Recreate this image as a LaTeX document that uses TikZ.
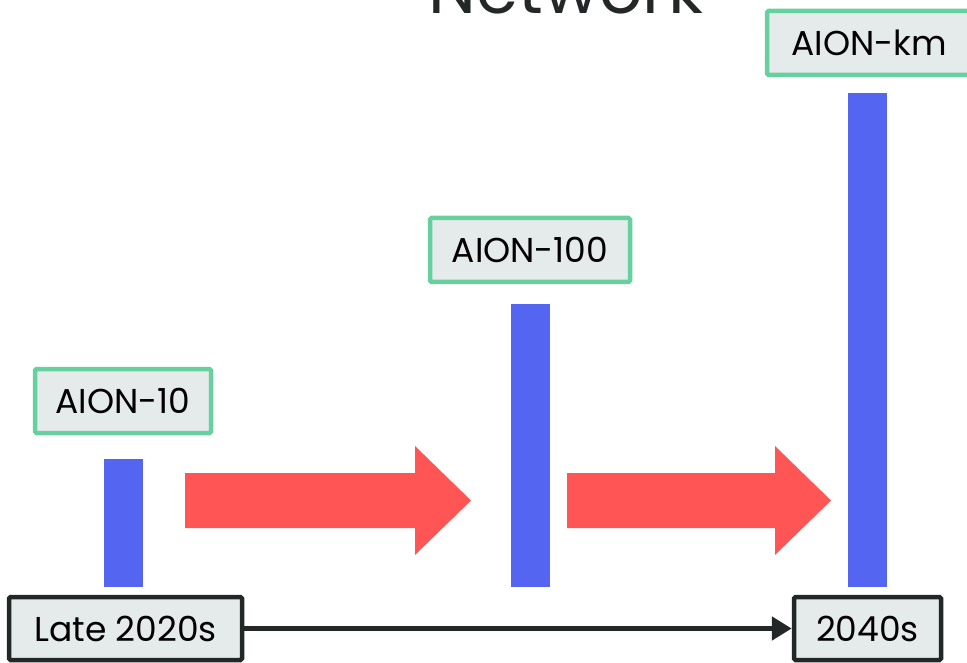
\documentclass[tikz,border=0pt]{standalone}
\usepackage{fontspec}
\setmainfont{Poppins}
\usetikzlibrary{arrows.meta}
\definecolor{gbord}{HTML}{66D19E}
\definecolor{bfill}{HTML}{E5EAEA}
\definecolor{dark}{HTML}{222828}
\definecolor{barc}{HTML}{5465F2}
\definecolor{redc}{HTML}{FF5555}
\begin{document}
\begin{tikzpicture}[x=1pt,y=-1pt,
  gbox/.style={draw=gbord,line width=4.5pt,fill=bfill,rounded corners=1.5pt,inner sep=0pt,font=\fontsize{34.5}{34.5}\selectfont,text=black},
  dbox/.style={draw=dark,line width=4.5pt,fill=bfill,rounded corners=1.5pt,inner sep=0pt,font=\fontsize{34.5}{34.5}\selectfont,text=black},
  bar/.style={fill=barc},
  bigarrow/.style={fill=redc}]
\useasboundingbox (0,0) rectangle (967,663);
\clip (0,0) rectangle (967,663);
\node[anchor=base,font=\fontsize{68}{68}\selectfont,text=dark] (title) at (566,14) {Network};
% boxes
\node[gbox,minimum width=176pt,minimum height=64pt] (a10) at (123,401) {AION-10};
\node[gbox,minimum width=200pt,minimum height=64pt] (a100) at (530,250) {AION-100};
\node[gbox,minimum width=204pt,minimum height=64pt] (akm) at (869,43) {AION-km};
% bars
\fill[bar] (104,459) rectangle (143,587);
\fill[bar] (511,304) rectangle (550,587);
\fill[bar] (848,93) rectangle (887,587);
% red arrows
\fill[bigarrow] (185,473) -- (415,473) -- (415,446) -- (471,500.5) -- (415,555) -- (415,528) -- (185,528) -- cycle;
\fill[bigarrow] (567,473) -- (775,473) -- (775,446) -- (831,500.5) -- (775,555) -- (775,528) -- (567,528) -- cycle;
% timeline
\node[dbox,minimum width=233pt,minimum height=63pt] (late) at (125.5,628.5) {Late 2020s};
\node[dbox,minimum width=147pt,minimum height=63pt] (y2040) at (867.5,628.5) {2040s};
\draw[dark,line width=5pt,-{Triangle[length=20pt,width=23pt]}] (late.east) -- (y2040.west);
\end{tikzpicture}
\end{document}
